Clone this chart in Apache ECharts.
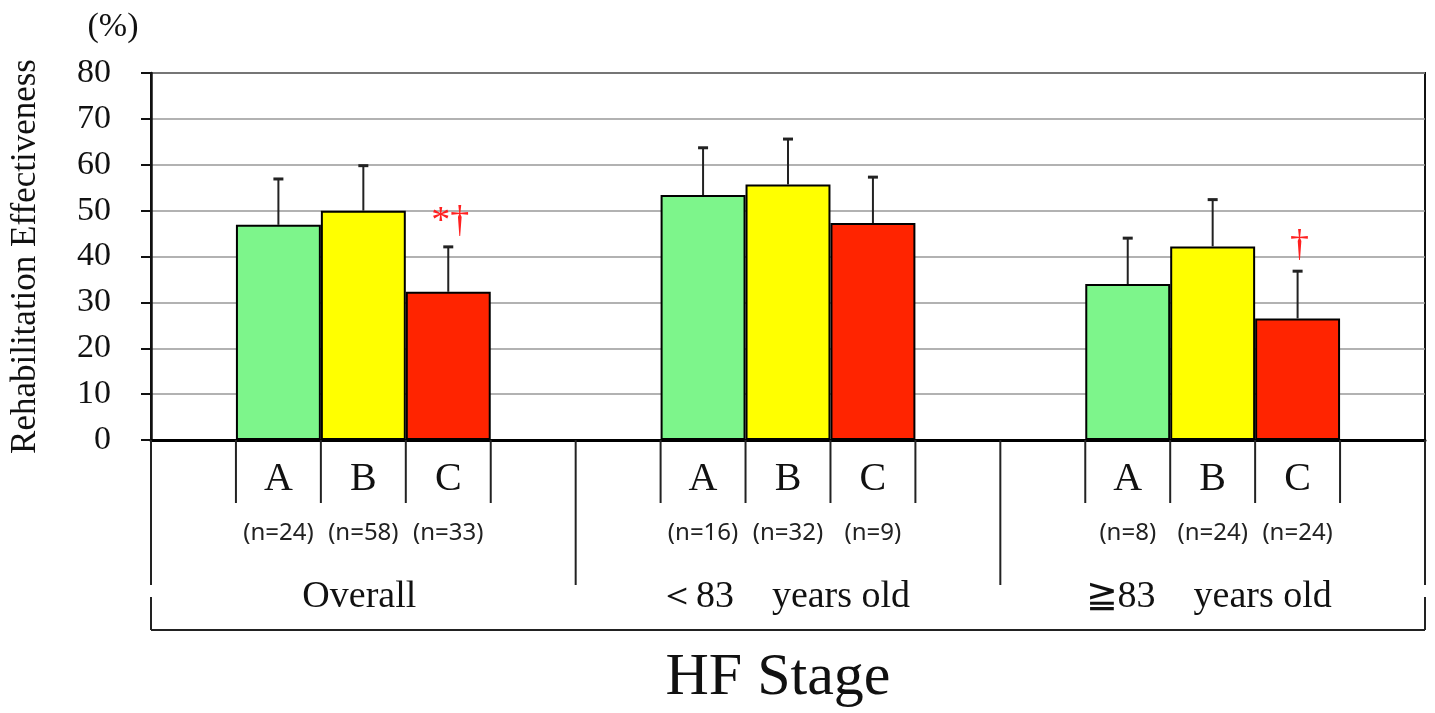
<!DOCTYPE html>
<html><head><meta charset="utf-8">
<script src="https://cdn.jsdelivr.net/npm/echarts@6/dist/echarts.min.js"></script>
<style>html,body{margin:0;padding:0;background:#fff}#c{width:1435px;height:713px}</style>
</head><body><div id="c"></div>
<script>
// ---- data ----
const groups = ['Overall', '＜83　years old', '≧83　years old'];
const stages = ['A', 'B', 'C'];
const meanA = [46.9, 53.4, 34.0];
const meanB = [50.0, 55.7, 42.2];
const meanC = [32.3, 47.3, 26.5];
const sdA = [10.0, 10.3, 10.0];
const sdB = [9.8, 9.9, 10.2];
const sdC = [9.8, 10.0, 10.3];
const nA = [24, 16, 8];
const nB = [58, 32, 24];
const nC = [33, 9, 24];
const sigA = ['', '', ''];
const sigB = ['', '', ''];
const sigC = ['*†', '', '†'];
const yMin = 0, yMax = 80, yStep = 10;
const stageColors = ['#7DF58B', '#FFFF00', '#FF2400'];

// ---- build slots: each group = pad, A, B, C, pad ----
const means = [meanA, meanB, meanC];
const sds = [sdA, sdB, sdC];
const ns = [nA, nB, nC];
const sigs = [sigA, sigB, sigC];
const slotKeys = [];
const slotInfo = {};
const barData = [];
const errRows = [];
groups.forEach((g, gi) => {
  const push = (key, info) => { slotKeys.push(key); slotInfo[key] = info; };
  push(gi + '|padL', null);
  barData.push('-');
  stages.forEach((s, si) => {
    const key = gi + '|' + s;
    push(key, { stage: s, n: ns[si][gi] });
    barData.push({ value: means[si][gi], itemStyle: { color: stageColors[si] } });
    errRows.push({ idx: slotKeys.length - 1, mean: means[si][gi], upper: means[si][gi] + sds[si][gi], sig: sigs[si][gi] });
  });
  push(gi + '|padR', null);
  barData.push('-');
});

const SERIF = '"Liberation Serif","Times New Roman",serif';
const chart = echarts.init(document.getElementById('c'), null, { renderer: 'canvas' });

chart.setOption({
  backgroundColor: '#fff',
  animation: false,
  grid: { left: 150, right: 10, top: 73, bottom: 273, show: true, borderColor: '#111', borderWidth: 2, backgroundColor: 'transparent' },
  xAxis: {
    type: 'category',
    data: slotKeys,
    boundaryGap: true,
    axisLine: { lineStyle: { color: '#000', width: 3 } },
    axisTick: { show: false },
    splitLine: { show: false },
    axisLabel: {
      interval: 0,
      margin: 9,
      formatter: (v) => {
        const info = slotInfo[v];
        if (!info) return '';
        return '{l|' + info.stage + '}\n{n|(n=' + info.n + ')}';
      },
      rich: {
        l: { fontFamily: SERIF, fontSize: 40, color: '#111', lineHeight: 60, align: 'center' },
        n: { fontFamily: '"Noto Sans","DejaVu Sans",sans-serif', fontSize: 24, color: '#222', lineHeight: 48, align: 'center' }
      }
    },
    name: 'HF Stage',
    nameLocation: 'middle',
    nameGap: 208,
    nameTextStyle: { fontFamily: SERIF, fontSize: 60, color: '#111', padding: [0, 20, 0, 0] }
  },
  yAxis: {
    type: 'value',
    min: yMin, max: yMax, interval: yStep,
    axisLine: { show: true, lineStyle: { color: '#111', width: 2.5 } },
    axisTick: { show: true, inside: false, length: 10, lineStyle: { color: '#111', width: 2 } },
    axisLabel: { fontFamily: SERIF, fontSize: 34, color: '#111', margin: 40 },
    splitLine: { show: true, lineStyle: { color: '#999', width: 1.5 } },
    name: 'Rehabilitation Effectiveness',
    nameLocation: 'middle',
    nameRotate: 90,
    nameGap: 108,
    nameTextStyle: { fontFamily: SERIF, fontSize: 35, color: '#111' }
  },
  series: [
    {
      type: 'bar',
      data: barData,
      barWidth: '100%',
      barGap: '0%',
      itemStyle: { borderColor: '#000', borderWidth: 2 },
      z: 2
    },
    {
      type: 'custom',
      z: 5,
      data: errRows.map(r => [r.idx, r.mean, r.upper]),
      renderItem: (params, api) => {
        const row = errRows[params.dataIndex];
        const x = api.value(0);
        const p0 = api.coord([x, api.value(1)]);
        const p1 = api.coord([x, api.value(2)]);
        const children = [
          { type: 'line', shape: { x1: p0[0], y1: p0[1], x2: p1[0], y2: p1[1] }, style: { stroke: '#222', lineWidth: 2 } },
          { type: 'line', shape: { x1: p1[0] - 5, y1: p1[1], x2: p1[0] + 5, y2: p1[1] }, style: { stroke: '#222', lineWidth: 3 } }
        ];
        if (row.sig) {
          children.push({ type: 'text', x: p1[0] + 2, y: p1[1] - 6, style: { text: row.sig, fill: '#FF2020', font: '38px ' + SERIF, textAlign: 'center', textVerticalAlign: 'bottom' } });
        }
        return { type: 'group', children };
      }
    }
  ]
});

// ---- table lines and group labels below the axis, placed from the axis scale ----
function drawTable() {
  const c0 = chart.convertToPixel({ xAxisIndex: 0 }, 0);
  const c1 = chart.convertToPixel({ xAxisIndex: 0 }, 1);
  const band = c1 - c0;
  const edge = (i) => c0 - band / 2 + i * band;
  const y0 = chart.convertToPixel({ yAxisIndex: 0 }, yMin);
  const ln = (x1, y1, x2, y2) => ({ type: 'line', shape: { x1, y1, x2, y2 }, style: { stroke: '#222', lineWidth: 2 }, z: 10 });
  const els = [];
  const perGroup = stages.length + 2;
  groups.forEach((g, gi) => {
    for (let k = 1; k <= stages.length + 1; k++) {
      els.push(ln(edge(gi * perGroup + k), y0, edge(gi * perGroup + k), y0 + 63));
    }
    const cx = (edge(gi * perGroup) + edge((gi + 1) * perGroup)) / 2;
    els.push({ type: 'text', x: cx - 4, y: y0 + 157, z: 10, style: { text: g, font: '38px ' + SERIF, fill: '#111', textAlign: 'center', textVerticalAlign: 'middle' } });
  });
  for (let gi = 0; gi <= groups.length; gi++) {
    els.push(ln(edge(gi * perGroup), y0, edge(gi * perGroup), y0 + 145));
  }
  const xl = edge(0), xr = edge(groups.length * perGroup);
  els.push(ln(xl, y0 + 157, xl, y0 + 190));
  els.push(ln(xr, y0 + 157, xr, y0 + 190));
  els.push(ln(xl, y0 + 190, xr, y0 + 190));
  const yTop = chart.convertToPixel({ yAxisIndex: 0 }, yMax);
  els.push({ type: 'text', x: xl - 38, y: yTop - 46, z: 10, style: { text: '(%)', font: '34px ' + SERIF, fill: '#111', textAlign: 'center', textVerticalAlign: 'middle' } });
  chart.setOption({ graphic: els });
}
drawTable();
</script>
</body></html>
